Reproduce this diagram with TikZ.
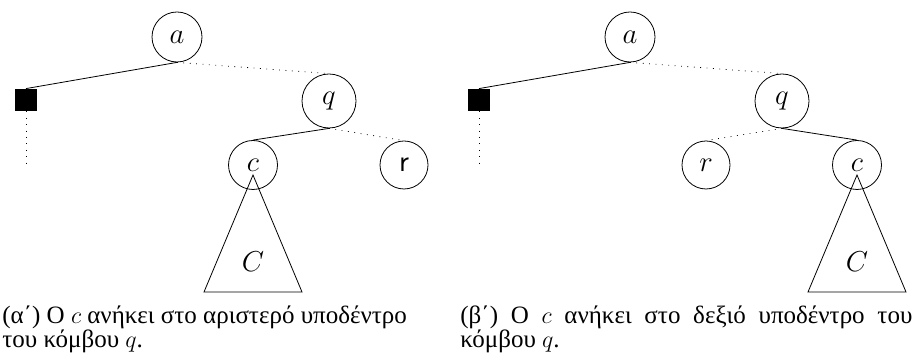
\documentclass[tikz,border=0pt]{standalone}
\usepackage{fontspec}
\setmainfont{Liberation Serif}
\begin{document}
\begin{tikzpicture}[x=0.5pt,y=-0.5pt, vx/.style={circle,draw,inner sep=0pt,minimum size=25pt,font=\fontsize{15}{18}\selectfont}, ext/.style={rectangle,fill,inner sep=0pt,minimum size=11pt}, dots/.style={dash pattern=on 0.4pt off 2.8pt}, capt/.style={anchor=base west,align=left,inner sep=0pt,font=\fontsize{12.5}{11}\selectfont}]
\useasboundingbox (0,0) rectangle (915,362);
% (a) c in the left subtree of q
\node[vx] (a) at (177,37) {$a$};
\node[ext] (e) at (26,100) {}; \coordinate (e') at (26,164);
\node[vx,minimum size=27pt] (q) at (329,101) {$q$};
\node[vx,minimum size=24.5pt] (c) at (253,165) {$c$};
\node[vx,minimum size=24pt] (r) at (404,165) {\textsf{r}};
\node[vx,draw=none] (C) at (253,262) {$C$};
\draw (a.south) -- (e.north); \draw[dots] (e.south) -- (e');
\draw[dots] (a.south) -- (q.north);
\draw (q.south) -- (c.north); \draw[dots] (q.south) -- (r.north);
\draw (c.center) ++(0,10) -- ++(-49,117) -- ++(98,0) -- cycle;
\node[capt] (ca) at (2,348) {(α΄) Ο $c$ ανήκει στο αριστερό υποδέντρο\\του κόμβου $q$.};
% (b) c in the right subtree of q
\node[vx] (a2) at (630,37) {$a$};
\node[ext] (e2) at (479,100) {}; \coordinate (e2') at (479,164);
\node[vx,minimum size=27pt] (q2) at (782,101) {$q$};
\node[vx,minimum size=24pt] (r2) at (706,165) {$r$};
\node[vx,minimum size=24.5pt] (c2) at (857,165) {$c$};
\node[vx,draw=none] (C2) at (857,262) {$C$};
\draw (a2.south) -- (e2.north); \draw[dots] (e2.south) -- (e2');
\draw[dots] (a2.south) -- (q2.north);
\draw[dots] (q2.south) -- (r2.north); \draw (q2.south) -- (c2.north);
\draw (c2.center) ++(0,10) -- ++(-49,117) -- ++(98,0) -- cycle;
\node[capt] (cb) at (460,348) {\makebox[226pt][s]{(β΄) Ο $c$ ανήκει στο δεξιό υποδέντρο του}\\κόμβου $q$.};
\end{tikzpicture}
\end{document}
